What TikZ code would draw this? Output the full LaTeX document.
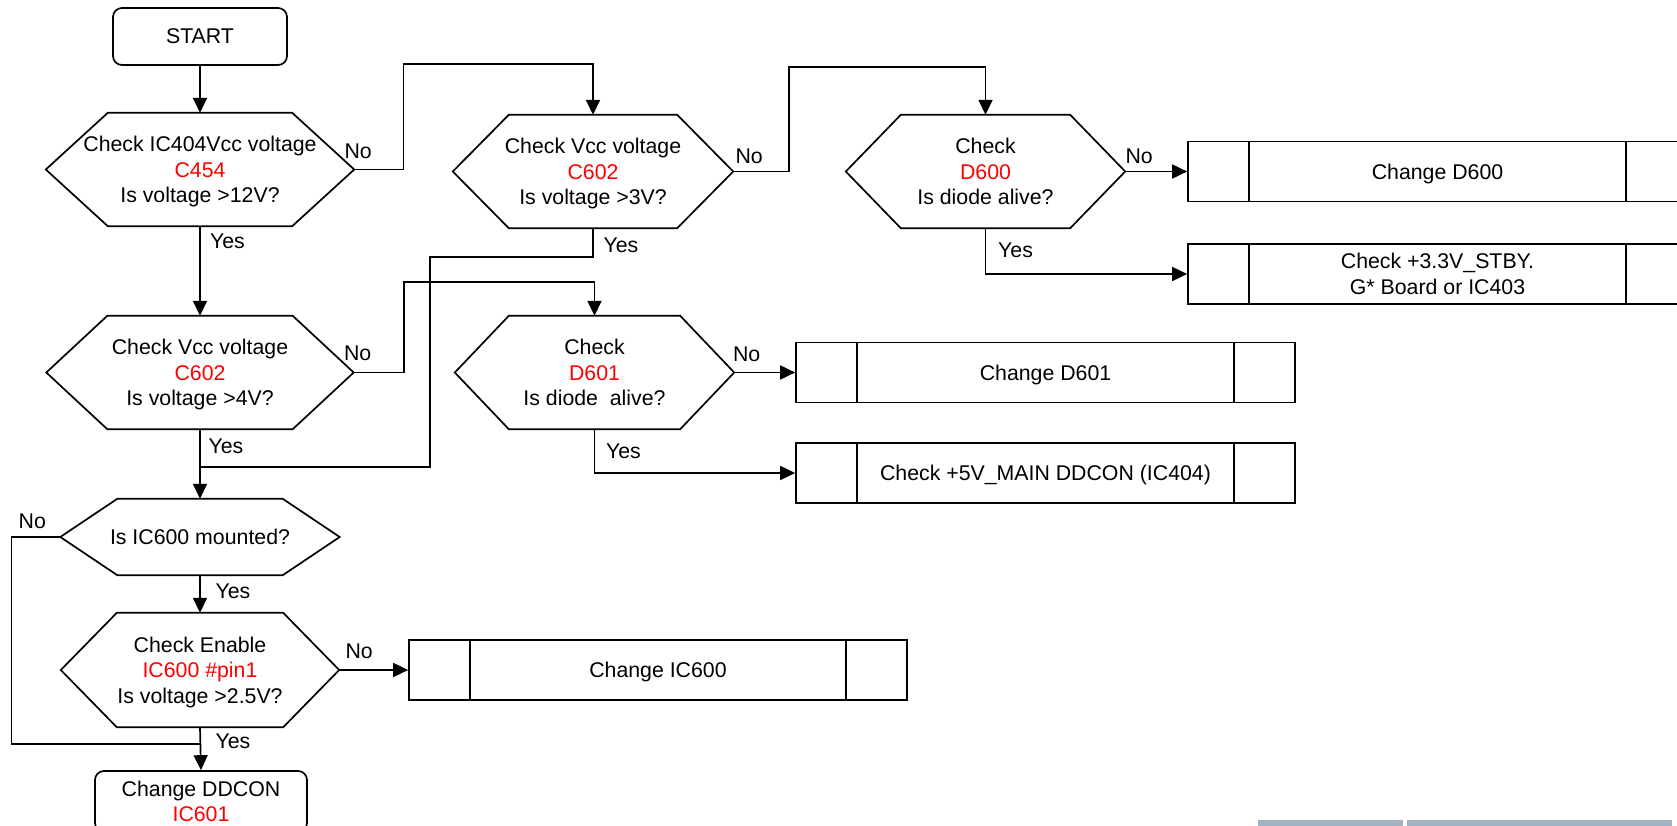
\documentclass[tikz,border=0pt]{standalone}
\usepackage{fontspec}
\setmainfont{Liberation Sans}
\usetikzlibrary{arrows.meta,calc}
\definecolor{redtxt}{HTML}{FF0000}
\definecolor{barcol}{HTML}{A3B2C1}
\newcommand{\hexoutline}[2]{%
  \draw[outl] (#1.west) -- ($(#1.north west)+(#2,0)$) -- ($(#1.north east)+(-#2,0)$) -- (#1.east)
    -- ($(#1.south east)+(-#2,0)$) -- ($(#1.south west)+(#2,0)$) -- cycle;}
\newcommand{\procbars}[1]{%
  \draw[outl] ($(#1.north west)+(62,0)$) -- ($(#1.south west)+(62,0)$);
  \draw[outl] ($(#1.north east)+(-62,0)$) -- ($(#1.south east)+(-62,0)$);}
\begin{document}
\begin{tikzpicture}[x=1pt,y=-1pt,
  every node/.style={font=\fontsize{21.3pt}{25.5pt}\selectfont, inner sep=0pt, text depth=0pt},
  outl/.style={line width=1.7pt, line join=miter},
  hexn/.style={align=center},
  procbox/.style={draw, outl, align=center, minimum width=499, minimum height=60},
  roundbox/.style={draw, outl, rounded corners=9pt, align=center},
  conn/.style={line width=1.7pt},
  arr/.style={conn, -{Triangle[length=15pt,width=14pt]}},
  lbl/.style={}]
\useasboundingbox (0,0) rectangle (1677,826);
\clip (0,0) rectangle (1677,826);

% start / end
\node[roundbox, minimum width=174, minimum height=57] (start) at (200,36.5) {START};
\node[roundbox, minimum width=212, minimum height=61] (end) at (201,801.5) {Change DDCON\\\textcolor{redtxt}{IC601}};

% decisions
\node[hexn, minimum width=308, minimum height=113] (h1) at (200,169.5) {Check IC404Vcc voltage\\\textcolor{redtxt}{C454}\\Is voltage >12V?};
\hexoutline{h1}{62}
\node[hexn, minimum width=280, minimum height=113] (h2) at (593,171.5) {Check Vcc voltage\\\textcolor{redtxt}{C602}\\Is voltage >3V?};
\hexoutline{h2}{56}
\node[hexn, minimum width=279, minimum height=113] (h3) at (985.5,171.5) {Check\\\textcolor{redtxt}{D600}\\Is diode alive?};
\hexoutline{h3}{55}
\node[hexn, minimum width=307, minimum height=113] (h4) at (200,372.5) {Check Vcc voltage\\\textcolor{redtxt}{C602}\\Is voltage >4V?};
\hexoutline{h4}{61}
\node[hexn, minimum width=279, minimum height=113] (h5) at (594.5,372.5) {Check\\\textcolor{redtxt}{D601}\\Is diode~\ alive?};
\hexoutline{h5}{54}
\node[hexn, minimum width=279, minimum height=76] (h6) at (200,537) {Is IC600 mounted?};
\hexoutline{h6}{57}
\node[hexn, minimum width=278, minimum height=114] (h7) at (200,670) {Check Enable\\\textcolor{redtxt}{IC600 \#pin1}\\Is voltage >2.5V?};
\hexoutline{h7}{56}

% process boxes
\node[procbox] (bD600) at (1437.5,171.5) {Change D600};
\procbars{bD600}
\node[procbox] (bSTBY) at (1437.5,274) {Check +3.3V\_STBY.\\G* Board or IC403};
\procbars{bSTBY}
\node[procbox] (bD601) at (1045.5,372.5) {Change D601};
\procbars{bD601}
\node[procbox] (bIC404) at (1045.5,473) {Check +5V\_MAIN DDCON (IC404)};
\procbars{bIC404}
\node[procbox, minimum width=498] (bIC600) at (658,670) {Change IC600};
\procbars{bIC600}

% bend points
\coordinate (c1) at (403.6,64.3);
\coordinate (c2) at (789,67);
\coordinate (c3) at (430,257);
\coordinate (j1) at (200,467);
\coordinate (c4) at (404,281.7);
\coordinate (c5) at (11.5,744);
\coordinate (j2) at (200,744);

% connectors
\draw[arr] (start.south) -- (h1.north);
\draw[arr] (h1.east) -| (c1) -| (h2.north);
\draw[arr] (h2.east) -| (c2) -| (h3.north);
\draw[arr] (h3.east) -- (bD600.west);
\draw[arr] (h3.south) |- (bSTBY.west);
\draw[arr] (h1.south) -- (h4.north);
\draw[conn] (h2.south) |- (c3) |- (j1);
\draw[arr] (h4.east) -| (c4) -| (h5.north);
\draw[arr] (h5.east) -- (bD601.west);
\draw[arr] (h5.south) |- (bIC404.west);
\draw[arr] (h4.south) -- (h6.north);
\draw[conn] (h6.west) -| (c5) -- (j2);
\draw[arr] (h6.south) -- (h7.north);
\draw[arr] (h7.east) -- (bIC600.west);
\draw[arr] (h7.south) -- (end.north);

% labels
\node[lbl] (n1) at ($(h1.east)+(4,-18.5)$) {No};
\node[lbl] (n2) at ($(h2.east)+(16,-15)$) {No};
\node[lbl] (n3) at ($(h3.east)+(14,-15)$) {No};
\node[lbl] (n4) at ($(h4.east)+(4,-19)$) {No};
\node[lbl] (n5) at ($(h5.east)+(12.5,-18)$) {No};
\node[lbl] (n6) at ($(h6.west)+(-28,-16)$) {No};
\node[lbl] (n7) at ($(h7.east)+(20,-19)$) {No};
\node[lbl] (y1) at ($(h1.south)+(27.5,15)$) {Yes};
\node[lbl] (y2) at ($(h2.south)+(28,17)$) {Yes};
\node[lbl] (y3) at ($(h3.south)+(30,22)$) {Yes};
\node[lbl] (y4) at ($(h4.south)+(26,17)$) {Yes};
\node[lbl] (y5) at ($(h5.south)+(29,22)$) {Yes};
\node[lbl] (y6) at ($(h6.south)+(33,16)$) {Yes};
\node[lbl] (y7) at ($(h7.south)+(33,14)$) {Yes};

% partial bars at bottom right
\fill[barcol] (1257.5,820) rectangle (1403,830);
\fill[barcol] (1406.6,820) rectangle (1671.6,830);
\end{tikzpicture}
\end{document}
